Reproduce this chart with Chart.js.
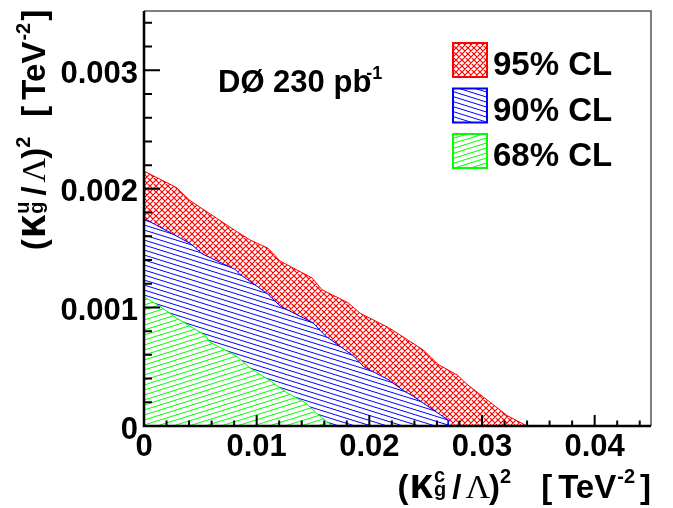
<!DOCTYPE html>
<html>
<head>
<meta charset="utf-8">
<script src="https://cdn.jsdelivr.net/npm/chart.js@4.4.1/dist/chart.umd.min.js"></script>
<style>
  html, body { margin: 0; padding: 0; background: #fff; }
  #wrap { width: 673px; height: 508px; }
</style>
</head>
<body>
<div id="wrap"><canvas id="chart" width="673" height="508"></canvas></div>
<script>
// Contornos de los limites (TeV^-2)
const cl95X = [0, 0.0029, 0.0041, 0.0079, 0.0094, 0.0110, 0.0121, 0.0149, 0.0158, 0.0181, 0.0192, 0.0217, 0.0227, 0.0248, 0.0261, 0.0278, 0.0287, 0.0316, 0.0322, 0.0340];
const cl95Y = [0.00215, 0.00201, 0.00190, 0.00166, 0.00157, 0.00150, 0.00139, 0.00125, 0.00115, 0.00104, 0.00095, 0.00083, 0.00077, 0.00064, 0.00052, 0.00043, 0.00035, 0.000135, 0.00009, 0];

const cl90X = [0, 0.0041, 0.0052, 0.0081, 0.0085, 0.0109, 0.0121, 0.0150, 0.0161, 0.0186, 0.0195, 0.0217, 0.0230, 0.0239, 0.0270, 0.0270];
const cl90Y = [0.00175, 0.00154, 0.00145, 0.00132, 0.00128, 0.00112, 0.00101, 0.00087, 0.00076, 0.00059, 0.00050, 0.00039, 0.00030, 0.00025, 0.00005, 0];

const cl68X = [0, 0.0014, 0.0029, 0.0055, 0.0058, 0.0082, 0.0094, 0.0109, 0.0127, 0.0144, 0.0153, 0.0162, 0.0167];
const cl68Y = [0.00109, 0.00101, 0.00091, 0.00076, 0.00071, 0.00059, 0.00049, 0.00040, 0.00028, 0.00019, 0.00011, 0.00004, 0];

const xTicks = [0, 0.01, 0.02, 0.03, 0.04];
const yTicks = [0, 0.001, 0.002, 0.003];
const clLabels = ['95% CL', '90% CL', '68% CL'];
const clColors = ['#ff0000', '#0000ff', '#00ff00'];

const SANS = '"Liberation Sans", Arial, Helvetica, sans-serif';
const SERIF = '"Liberation Serif", "DejaVu Serif", serif';

// patrones de rayado estilo ROOT
function hatch(color, kind) {
  const c = document.createElement('canvas');
  const w = kind === 'cross' ? 6 : 16;
  const h = kind === 'cross' ? 6 : 5;
  c.width = w; c.height = h;
  const g = c.getContext('2d');
  g.fillStyle = '#fff';
  g.fillRect(0, 0, w, h);
  g.strokeStyle = color;
  g.lineWidth = kind === 'cross' ? 1.2 : 1;
  g.beginPath();
  for (let k = -1; k <= 1; k++) {
    if (kind === 'cross') {
      g.moveTo(k * w, 0); g.lineTo(k * w + w, h);
      g.moveTo(k * w, h); g.lineTo(k * w + w, 0);
    } else if (kind === 'down') {
      g.moveTo(0, k * h); g.lineTo(w, k * h + h);
    } else {
      g.moveTo(0, k * h + h); g.lineTo(w, k * h);
    }
  }
  g.stroke();
  return document.getElementById('chart').getContext('2d').createPattern(c, 'repeat');
}

const patterns = [hatch(clColors[0], 'cross'), hatch(clColors[1], 'down'), hatch(clColors[2], 'up')];

function pts(xs, ys) {
  return xs.map((x, i) => ({ x: x, y: ys[i] }));
}

function measureParts(ctx, parts) {
  let w = 0;
  parts.forEach(p => {
    if (p.gap !== undefined) { w += p.gap; return; }
    if (p.stack) {
      w += Math.max(...p.stack.map(s => { ctx.font = s.f; return ctx.measureText(s.t).width; }));
      return;
    }
    ctx.font = p.f;
    w += ctx.measureText(p.t).width;
  });
  return w;
}

function drawParts(ctx, parts, x, y) {
  ctx.textAlign = 'left';
  ctx.textBaseline = 'alphabetic';
  ctx.fillStyle = '#000';
  parts.forEach(p => {
    if (p.gap !== undefined) { x += p.gap; return; }
    if (p.stack) {
      let m = 0;
      p.stack.forEach(s => {
        ctx.font = s.f;
        ctx.fillText(s.t, x, y + (s.dy || 0));
        m = Math.max(m, ctx.measureText(s.t).width);
      });
      x += m;
      return;
    }
    ctx.font = p.f;
    ctx.fillText(p.t, x, y + (p.dy || 0));
    x += ctx.measureText(p.t).width;
  });
}

function axisTitle(sup, gapBracket, gapEnd) {
  const B = 'bold 33px ' + SANS;
  const K = 'bold 42px ' + SANS;
  const S = 'bold 20px ' + SANS;
  const L = '34px ' + SERIF;
  return [
    { t: '(', f: B }, { gap: 1 }, { t: 'κ', f: K }, { gap: 1 },
    { stack: [{ t: sup, f: S, dy: -16 }, { t: 'g', f: S, dy: -2 }] },
    { gap: 6 }, { t: '/', f: B }, { gap: 4 }, { t: 'Λ', f: L }, { gap: -1 },
    { t: ')', f: B }, { t: '2', f: S, dy: -15 },
    { gap: gapBracket }, { t: '[', f: B }, { gap: 6 }, { t: 'TeV', f: B },
    { gap: 1 }, { t: '-2', f: S, dy: -15 }, { gap: gapEnd }, { t: ']', f: B }
  ];
}

const decor = {
  id: 'decor',
  afterDatasetsDraw(chart) {
    const { ctx, chartArea: a, scales: { x, y } } = chart;
    ctx.save();
    // marco superior y derecho
    ctx.strokeStyle = '#555';
    ctx.lineWidth = 1.5;
    ctx.beginPath();
    ctx.moveTo(a.left, a.top); ctx.lineTo(a.right, a.top); ctx.lineTo(a.right, a.bottom);
    ctx.stroke();
    // marcas hacia dentro
    ctx.strokeStyle = '#000';
    ctx.lineWidth = 2;
    ctx.beginPath();
    for (let i = 0; i <= 22; i++) {
      const px = x.getPixelForValue(i * 0.002);
      const len = i % 5 === 0 ? 11 : 5.5;
      ctx.moveTo(px, a.bottom); ctx.lineTo(px, a.bottom - len);
    }
    for (let i = 0; i <= 17; i++) {
      const py = y.getPixelForValue(i * 0.0002);
      const len = i % 5 === 0 ? 16 : 8;
      ctx.moveTo(a.left, py); ctx.lineTo(a.left + len, py);
    }
    ctx.stroke();
    // ejes
    ctx.lineWidth = 2.5;
    ctx.beginPath();
    ctx.moveTo(a.left, a.top); ctx.lineTo(a.left, a.bottom); ctx.lineTo(a.right, a.bottom);
    ctx.stroke();
    ctx.restore();
  },
  afterDraw(chart) {
    const ctx = chart.ctx;
    ctx.save();
    // titulo eje x
    const xt = axisTitle('c', 30, 5);
    drawParts(ctx, xt, 651 - measureParts(ctx, xt), 497.5);
    // titulo eje y (rotado)
    const yt = axisTitle('u', 20, 2);
    const yw = measureParts(ctx, yt);
    ctx.save();
    ctx.translate(45, 130 + yw / 2);
    ctx.rotate(-Math.PI / 2);
    drawParts(ctx, yt, 0, 0);
    ctx.restore();
    // etiqueta del experimento
    drawParts(ctx, [
      { t: 'DØ 230 pb', f: 'bold 31px ' + SANS },
      { gap: -5 }, { t: '-1', f: 'bold 18px ' + SANS, dy: -13 }
    ], 218, 92);
    // leyenda
    chart.data.datasets.forEach((ds, i) => {
      const top = 43 + i * 45.5;
      ctx.fillStyle = ds.backgroundColor;
      ctx.fillRect(453, top, 34, 34);
      ctx.strokeStyle = ds.borderColor;
      ctx.lineWidth = 2;
      ctx.strokeRect(453, top, 34, 34);
      ctx.fillStyle = '#000';
      ctx.font = 'bold 33px ' + SANS;
      ctx.textAlign = 'left';
      ctx.textBaseline = 'alphabetic';
      ctx.fillText(ds.label, 493, top + 32);
    });
    ctx.restore();
  }
};

const tickFont = { family: SANS, size: 31, weight: 'bold' };

new Chart(document.getElementById('chart'), {
  type: 'scatter',
  data: {
    datasets: [
      { label: clLabels[0], data: pts(cl95X, cl95Y), order: 3 },
      { label: clLabels[1], data: pts(cl90X, cl90Y), order: 2 },
      { label: clLabels[2], data: pts(cl68X, cl68Y), order: 1 }
    ].map((d, i) => Object.assign(d, {
      showLine: true,
      fill: 'origin',
      borderColor: clColors[i],
      backgroundColor: patterns[i],
      borderWidth: 1,
      pointRadius: 0,
      tension: 0
    }))
  },
  options: {
    responsive: false,
    animation: false,
    layout: { padding: { left: 0, right: 22, top: 11, bottom: 0 } },
    plugins: { legend: { display: false }, tooltip: { enabled: false } },
    scales: {
      x: {
        type: 'linear', min: 0, max: 0.045,
        grid: { display: false, drawTicks: false },
        border: { display: false },
        afterBuildTicks: s => { s.ticks = xTicks.map(v => ({ value: v })); },
        afterFit: s => { s.height = 82; s.paddingLeft = 0; s.paddingRight = 0; },
        ticks: {
          font: tickFont, color: '#000', padding: 3,
          autoSkip: false, maxRotation: 0, minRotation: 0,
          callback: v => String(v)
        }
      },
      y: {
        type: 'linear', min: 0, max: 0.0035,
        grid: { display: false, drawTicks: false },
        border: { display: false },
        afterBuildTicks: s => { s.ticks = yTicks.map(v => ({ value: v })); },
        afterFit: s => { s.width = 144; s.paddingTop = 0; s.paddingBottom = 0; },
        ticks: {
          font: tickFont, color: '#000', padding: 6, labelOffset: 4,
          autoSkip: false,
          callback: v => String(v)
        }
      }
    }
  },
  plugins: [decor]
});
</script>
</body>
</html>
